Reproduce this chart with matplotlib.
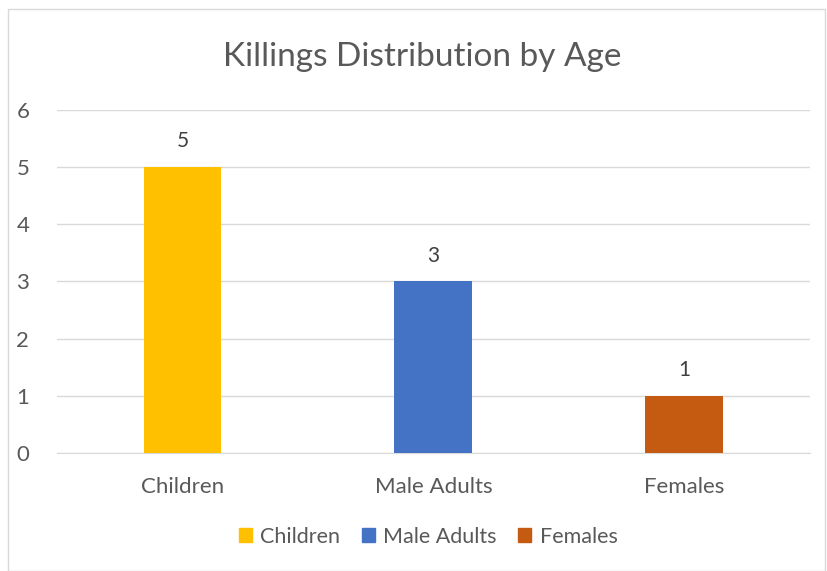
import matplotlib
matplotlib.use("Agg")
import matplotlib.pyplot as plt
from matplotlib.patches import Rectangle, Patch

categories = ["Children", "Male Adults", "Females"]
values = [5, 3, 1]
colors = ["#FFC000", "#4472C4", "#C55A11"]
yticks = [0, 1, 2, 3, 4, 5, 6]

plt.rcParams['font.family'] = ['Lato', 'DejaVu Sans']
text_col = "#595959"

fig = plt.figure(figsize=(8.27, 5.71), dpi=100)
ax = fig.add_axes([0.069, 0.2067, 0.910, 0.601])

x = range(len(categories))
bars = ax.bar(x, values, width=0.31, color=colors, zorder=3)
for xi, v in zip(x, values):
    ax.text(xi, v + 0.45, str(v), ha="center", va="center", fontsize=15, color="#404040")

ax.set_xlim(-0.5, 2.5)
ax.set_ylim(0, 6)
ax.set_yticks(yticks)
ax.set_xticks(list(x))
ax.set_xticklabels(categories)
ax.tick_params(axis="both", length=0, labelsize=16, colors=text_col)
ax.tick_params(axis="x", pad=17)
ax.tick_params(axis="y", pad=20)
ax.grid(axis="y", color="#D9D9D9", linewidth=1, zorder=0)
for s in ["top", "right", "left"]:
    ax.spines[s].set_visible(False)
ax.spines["bottom"].set_color("#D9D9D9")

fig.text(0.511, 0.9, "Killings Distribution by Age", ha="center", va="center",
         fontsize=24, color=text_col)

handles = [Patch(color=c) for c in colors]
fig.legend(handles, categories, loc="center", bbox_to_anchor=(0.518, 0.06), ncol=3,
           frameon=False, fontsize=15.5, labelcolor=text_col, handlelength=0.6,
           handleheight=0.6, handletextpad=0.4, columnspacing=1.0)

fig.patches.append(Rectangle((0.01, 0.0), 0.988, 0.985, transform=fig.transFigure,
                             fill=False, edgecolor="#D9D9D9", linewidth=1))

fig.savefig("out.png", dpi=100)
